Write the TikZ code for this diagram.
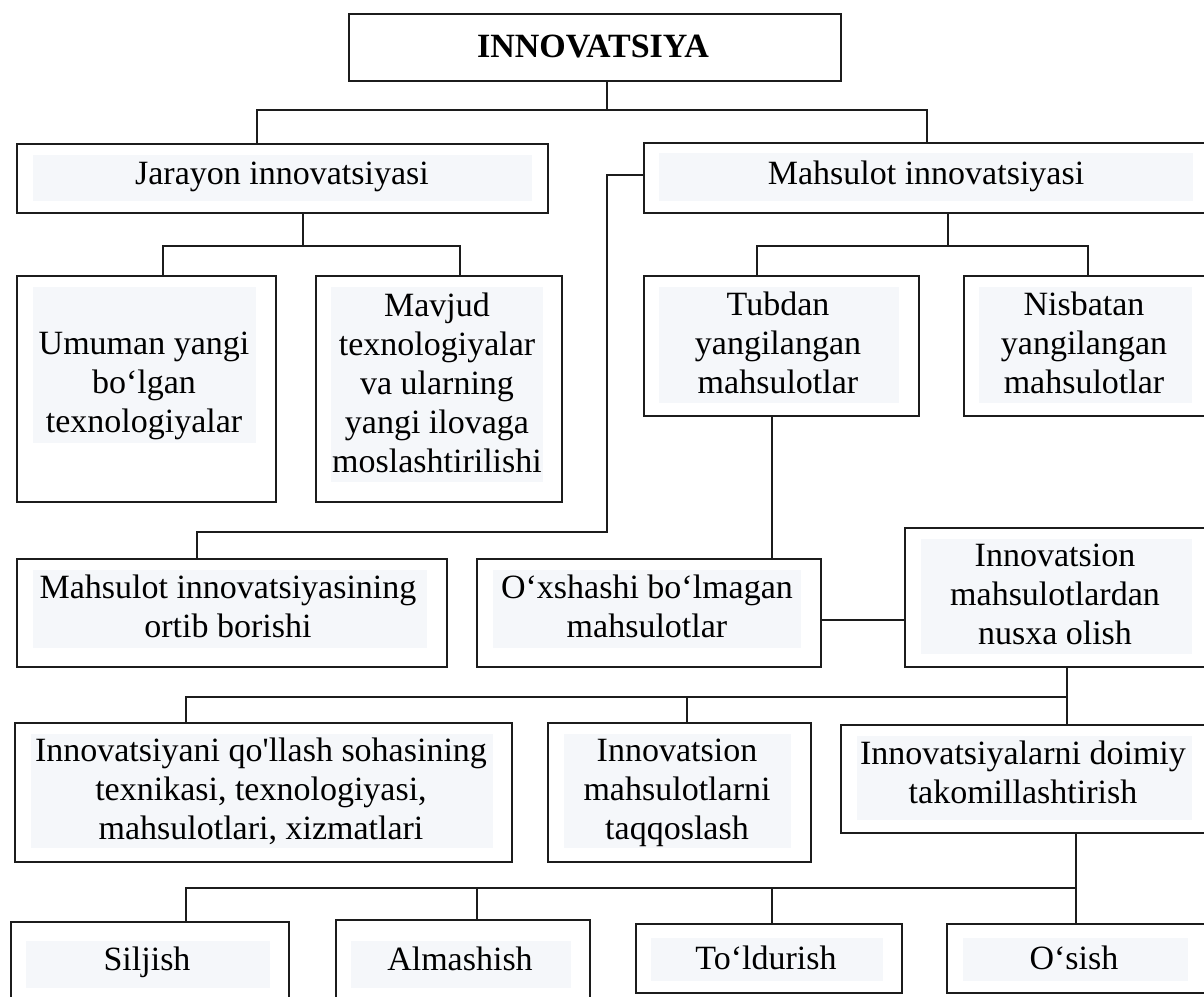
\documentclass[tikz,border=0pt]{standalone}
\usepackage{fontspec}
\setmainfont{Liberation Serif}
\definecolor{shadecol}{RGB}{245,247,250}
\definecolor{linecol}{RGB}{28,28,28}
\tikzset{
  box/.style={draw=linecol, line width=1.8pt, fill=white, inner sep=0pt, rectangle},
  txt/.style={font=\fontsize{34}{39}\selectfont, align=center, inner sep=0pt, text=black},
  conn/.style={draw=linecol, line width=1.5pt},
}
\newcommand\mkbox[5]{\node[box, minimum width={#4-#2}, minimum height={#5-#3}] (#1) at ({(#2+#4)/2},{(#3+#5)/2}) {};}
\newcommand\mkshade[4]{\fill[shadecol] (#1,#2) rectangle (#3,#4);}
\begin{document}
\begin{tikzpicture}[x=1pt,y=-1pt]
\useasboundingbox (0,0) rectangle (1204,996);
\fill[white] (0,0) rectangle (1204,996);
\clip (0,0) rectangle (1204,996);

% junction coordinates
\coordinate (j1) at (607,110);
\coordinate (jl) at (257,110);
\coordinate (jr) at (927,110);
\coordinate (j2) at (303,246);
\coordinate (j2l) at (163,246);
\coordinate (j2r) at (460,246);
\coordinate (j3) at (948,246);
\coordinate (j3l) at (757,246);
\coordinate (j3r) at (1088,246);
\coordinate (k1) at (607,175);
\coordinate (k2) at (607,532);
\coordinate (k3) at (197,532);
\coordinate (k4) at (772,500);
\coordinate (k5) at (860,620);
\coordinate (m1) at (1067,697);
\coordinate (m0) at (186,697);
\coordinate (m2) at (687,697);
\coordinate (n1) at (1076,888);
\coordinate (n0) at (186,888);
\coordinate (n2) at (477,888);
\coordinate (n3) at (772,888);

% boxes
\mkbox{top}{349}{14}{841}{81}
\mkbox{jar}{17}{144}{548}{213}
\mkbox{mah}{644}{143}{1215}{213}
\mkbox{umu}{17}{276}{276}{502}
\mkbox{mav}{316}{276}{562}{502}
\mkbox{tub}{644}{276}{919}{416}
\mkbox{nis}{964}{276}{1215}{416}
\mkbox{mio}{17}{559}{447}{667}
\mkbox{oxs}{477}{559}{821}{667}
\mkbox{inm}{905}{528}{1215}{667}
\mkbox{qol}{15}{723}{512}{862}
\mkbox{taq}{548}{723}{811}{862}
\mkbox{doi}{841}{725}{1215}{833}
\mkbox{sil}{11}{922}{289}{1012}
\mkbox{alm}{336}{920}{590}{1012}
\mkbox{tol}{636}{924}{902}{993}
\mkbox{osi}{947}{924}{1215}{993}

% shaded text backgrounds
\mkshade{33}{155}{532}{201}
\mkshade{659}{153}{1193}{201}
\mkshade{33}{287}{256}{443}
\mkshade{331}{287}{543}{482}
\mkshade{659}{287}{899}{403}
\mkshade{979}{287}{1192}{403}
\mkshade{33}{570}{427}{648}
\mkshade{493}{570}{801}{648}
\mkshade{921}{539}{1192}{654}
\mkshade{31}{734}{493}{848}
\mkshade{564}{734}{791}{848}
\mkshade{857}{736}{1192}{820}
\mkshade{26}{941}{270}{988}
\mkshade{351}{941}{571}{988}
\mkshade{651}{938}{883}{981}
\mkshade{963}{938}{1188}{981}

% texts
\node[txt, font=\fontsize{34}{39}\selectfont\bfseries] (top-t) at (593,46) {INNOVATSIYA};
\node[txt] (jar-t) at (282,177) {Jarayon innovatsiyasi};
\node[txt] (mah-t) at (926,176) {Mahsulot innovatsiyasi};
\node[txt] (umu-t) at (144,386) {Umuman yangi\\bo‘lgan\\texnologiyalar};
\node[txt] (mav-t) at (437,383) {Mavjud\\texnologiyalar\\va ularning\\yangi ilovaga\\moslashtirilishi};
\node[txt] (tub-t) at (778,343) {Tubdan\\yangilangan\\mahsulotlar};
\node[txt] (nis-t) at (1084,343) {Nisbatan\\yangilangan\\mahsulotlar};
\node[txt] (mio-t) at (228,606) {Mahsulot innovatsiyasining\\ortib borishi};
\node[txt] (oxs-t) at (647,606) {O‘xshashi bo‘lmagan\\mahsulotlar};
\node[txt] (inm-t) at (1055,594) {Innovatsion\\mahsulotlardan\\nusxa olish};
\node[txt] (qol-t) at (261,791) {Innovatsiyani qo\textquotesingle llash sohasining\\texnikasi, texnologiyasi,\\mahsulotlari, xizmatlari};
\node[txt] (taq-t) at (677,793) {Innovatsion\\mahsulotlarni\\taqqoslash};
\node[txt] (doi-t) at (1023,772) {Innovatsiyalarni doimiy\\takomillashtirish};
\node[txt] (sil-t) at (147,962) {Siljish};
\node[txt] (alm-t) at (460,959) {Almashish};
\node[txt] (tol-t) at (766,958) {To‘ldurish};
\node[txt] (osi-t) at (1074,958) {O‘sish};

% connectors
\draw[conn] (top.south -| j1) -- (j1);
\draw[conn] (jar.north -| jl) -- (jl) -- (jr) -- (mah.north -| jr);
\draw[conn] (jar.south -| j2) -- (j2);
\draw[conn] (umu.north -| j2l) -- (j2l) -- (j2r) -- (mav.north -| j2r);
\draw[conn] (mah.south -| j3) -- (j3);
\draw[conn] (tub.north -| j3l) -- (j3l) -- (j3r) -- (nis.north -| j3r);
\draw[conn] (mah.west |- k1) -- (k1) -- (k2) -- (k3) -- (mio.north -| k3);
\draw[conn] (tub.south -| k4) -- (oxs.north -| k4);
\draw[conn] (oxs.east |- k5) -- (inm.west |- k5);
\draw[conn] (inm.south -| m1) -- (doi.north -| m1);
\draw[conn] (m1) -- (m0) -- (qol.north -| m0);
\draw[conn] (m2) -- (taq.north -| m2);
\draw[conn] (doi.south -| n1) -- (osi.north -| n1);
\draw[conn] (n1) -- (n0) -- (sil.north -| n0);
\draw[conn] (n2) -- (alm.north -| n2);
\draw[conn] (n3) -- (tol.north -| n3);
\end{tikzpicture}
\end{document}
